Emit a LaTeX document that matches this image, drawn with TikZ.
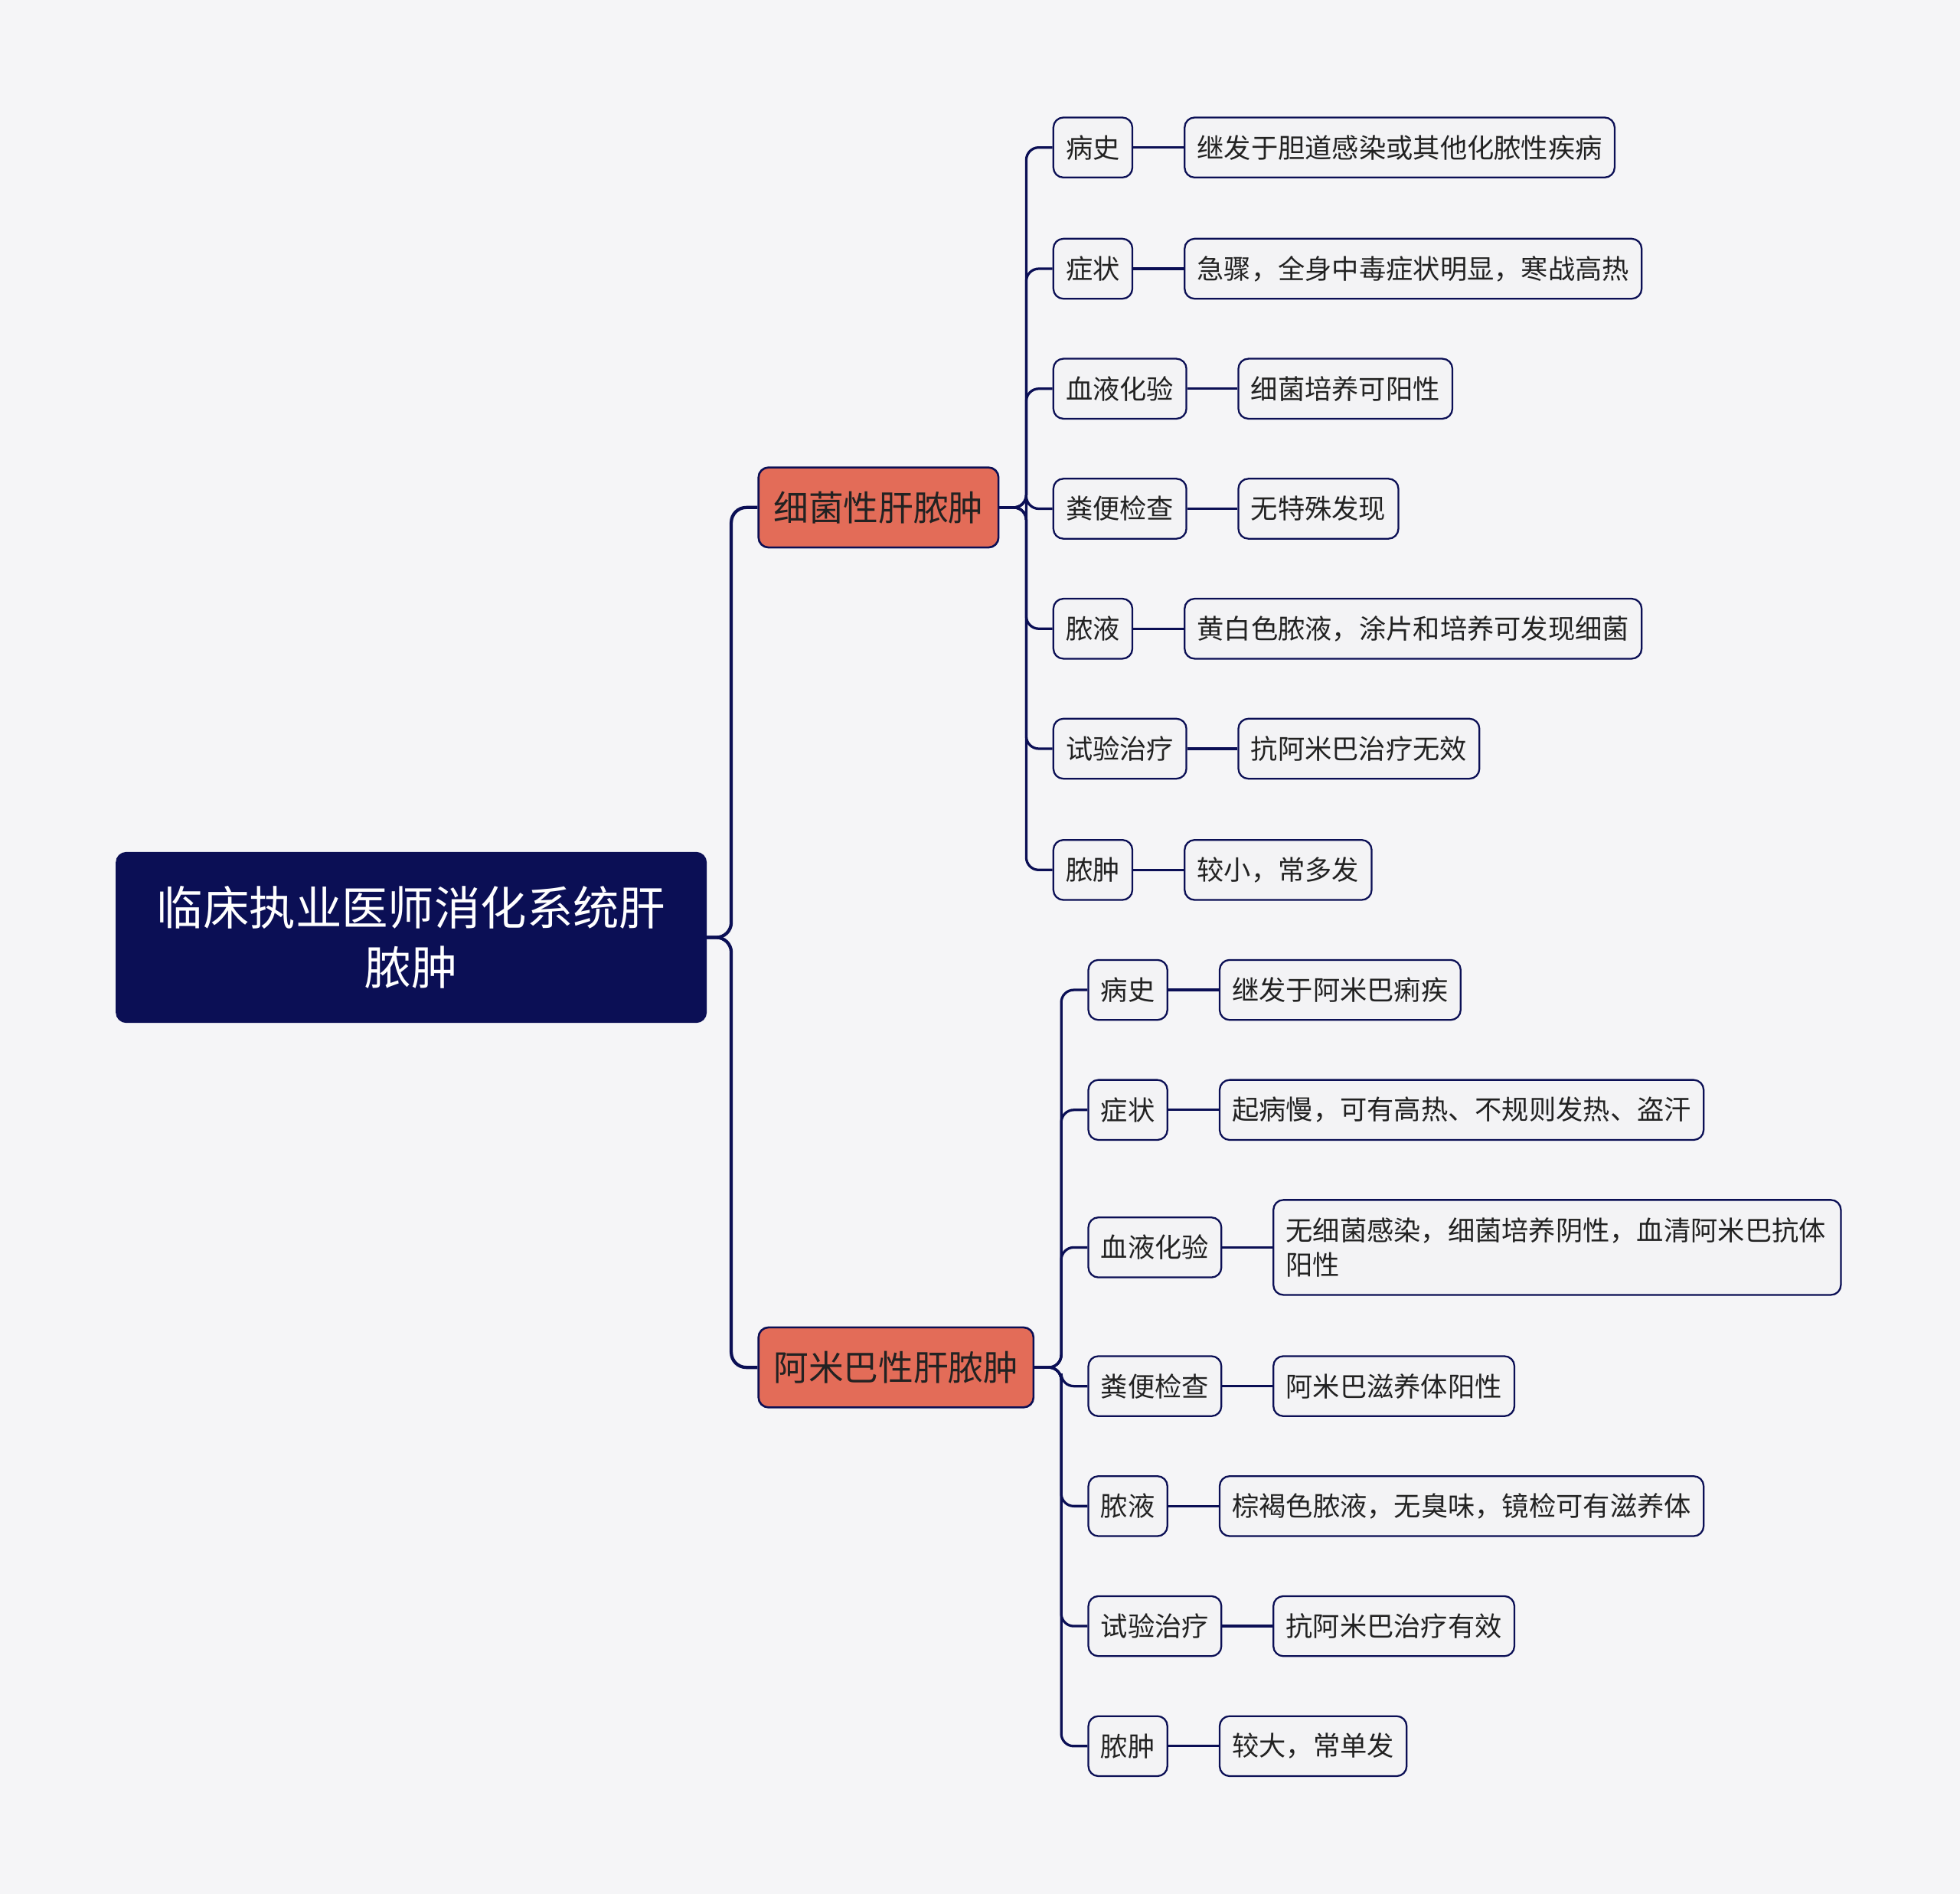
\documentclass[tikz,border=0pt]{standalone}
\usepackage{fontspec}
\setmainfont{Noto Sans CJK SC}
\definecolor{navy}{HTML}{0B0F55}
\definecolor{bg}{HTML}{F5F5F7}
\definecolor{red1}{HTML}{E36C58}
\definecolor{leaf}{HTML}{F3F3F5}
\definecolor{txt}{HTML}{222222}
\begin{document}
\begin{tikzpicture}[x=0.5pt,y=-0.5pt,
  rootbox/.style={fill=navy,draw=navy,rounded corners=4pt,text=white,font=\fontsize{18.5}{24}\selectfont,align=center,minimum width=236pt,minimum height=68pt,inner sep=4pt},
  branchbox/.style={fill=red1,draw=navy,line width=0.8pt,rounded corners=4pt,text=txt,font=\fontsize{14}{16}\selectfont,minimum height=32pt,inner xsep=6pt,anchor=west},
  childbox/.style={fill=leaf,draw=navy,line width=0.7pt,rounded corners=4pt,text=txt,font=\fontsize{10.8}{13}\selectfont,minimum height=24pt,inner xsep=5pt,anchor=west},
  link/.style={draw=navy,line width=1.3pt,rounded corners=6pt},
  slink/.style={draw=navy,line width=1pt,rounded corners=5pt}]
\fill[bg] (0,0) rectangle (1568,1515);
\useasboundingbox (0,0) rectangle (1568,1515);
\node[rootbox] (root) at (329,750) {临床执业医师消化系统肝\\脓肿};
\node[branchbox] (b1) at (606,406) {细菌性肝脓肿};
\node[branchbox] (b2) at (606,1094) {阿米巴性肝脓肿};
\draw[link] (root.east) -- (585,750) |- (b1.west);
\draw[link] (root.east) -- (585,750) |- (b2.west);
% branch 1
\foreach \n/\t/\y/\lx/\l in {a1/病史/118/947/继发于胆道感染或其他化脓性疾病,
  a2/症状/215/947/{急骤，全身中毒症状明显，寒战高热},
  a3/血液化验/311/990/细菌培养可阳性,
  a4/粪便检查/407/990/无特殊发现,
  a5/脓液/503/947/{黄白色脓液，涂片和培养可发现细菌},
  a6/试验治疗/599/990/抗阿米巴治疗无效,
  a7/脓肿/696/947/{较小，常多发}}{
  \node[childbox] (\n) at (842,\y) {\t};
  \node[childbox] (\n l) at (\lx,\y) {\l};
  \draw[slink] (b1.east) -- (821,406) |- (\n.west);
  \draw[slink] (\n.east) -- (\n l.west);
}
% branch 2
\foreach \n/\t/\y/\lx/\l in {c1/病史/792/975/继发于阿米巴痢疾,
  c2/症状/888/975/{起病慢，可有高热、不规则发热、盗汗},
  c4/粪便检查/1109/1018/阿米巴滋养体阳性,
  c5/脓液/1205/975/{棕褐色脓液，无臭味，镜检可有滋养体},
  c6/试验治疗/1301/1018/抗阿米巴治疗有效,
  c7/脓肿/1397/975/{较大，常单发}}{
  \node[childbox] (\n) at (870,\y) {\t};
  \node[childbox] (\n l) at (\lx,\y) {\l};
  \draw[slink] (b2.east) -- (849,1094) |- (\n.west);
  \draw[slink] (\n.east) -- (\n l.west);
}
\node[childbox] (c3) at (870,998) {血液化验};
\node[childbox,text width=217pt,align=left,minimum height=38pt,font=\fontsize{10.8}{14}\selectfont] (c3l) at (1018,998) {无细菌感染，细菌培养阴性，血清阿米巴抗体\\阳性\\[-2pt]};
\draw[slink] (b2.east) -- (849,1094) |- (c3.west);
\draw[slink] (c3.east) -- (c3l.west);
\end{tikzpicture}
\end{document}
